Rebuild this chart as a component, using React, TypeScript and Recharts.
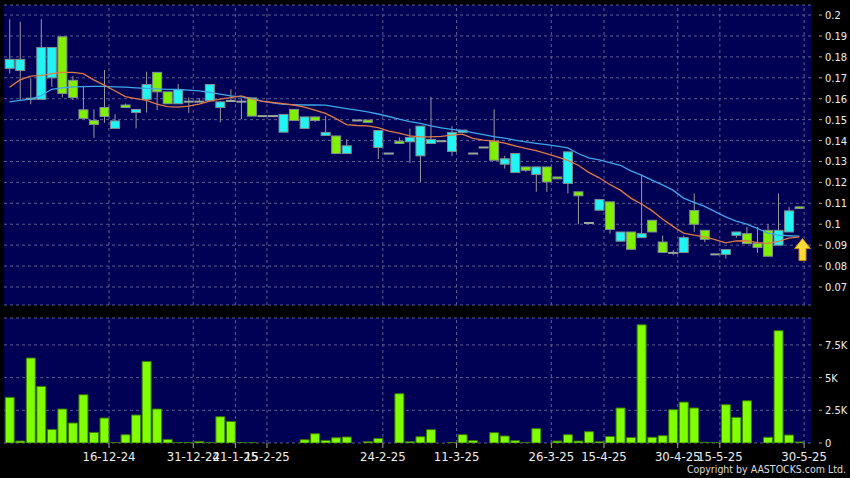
import {
  ComposedChart,
  Bar,
  Line,
  XAxis,
  YAxis,
  CartesianGrid,
  ReferenceLine,
  ReferenceDot,
} from "recharts";

// daily candles, oldest first (green = down day, cyan = up day)
const OPEN = [
  0.1745, 0.1735, 0.16, 0.1597, 0.17, 0.1896, 0.1688, 0.1547, 0.1496, 0.1558,
  0.1458, 0.157, 0.1534, 0.1597, 0.1726, 0.1633, 0.1576, 0.1586, 0.1586, 0.159,
  0.1558, 0.1589, 0.1586, 0.1604, 0.1517, 0.1517, 0.144, 0.1549, 0.1458, 0.1513,
  0.1424, 0.1422, 0.1338, 0.1496, 0.1498, 0.1367, 0.1338, 0.1397, 0.1394, 0.1327,
  0.1386, 0.1397, 0.1348, 0.1439, 0.1338, 0.1367, 0.1397, 0.1287, 0.1247, 0.1274,
  0.1238, 0.1274, 0.1226, 0.1195, 0.1155, 0.1006, 0.1067, 0.1107, 0.0919, 0.0963,
  0.0936, 0.1019, 0.0915, 0.0863, 0.0865, 0.1066, 0.0971, 0.0856, 0.0856, 0.0947,
  0.0955, 0.0908, 0.0971, 0.09, 0.0963, 0.1083,
];
const CLOSE = [
  0.1788, 0.1788, 0.16, 0.1845, 0.1845, 0.1625, 0.1606, 0.1506, 0.1477, 0.1515,
  0.1494, 0.1558, 0.1549, 0.1668, 0.1633, 0.1576, 0.1644, 0.1586, 0.1586, 0.1668,
  0.1585, 0.1589, 0.1586, 0.1517, 0.1517, 0.1517, 0.1525, 0.1496, 0.1513, 0.1496,
  0.1439, 0.1338, 0.1375, 0.1496, 0.1487, 0.1448, 0.1338, 0.1386, 0.1415, 0.1469,
  0.1405, 0.1397, 0.1439, 0.145, 0.1338, 0.1367, 0.1306, 0.1313, 0.1338, 0.1258,
  0.1274, 0.1202, 0.1217, 0.1346, 0.1136, 0.1006, 0.1118, 0.0975, 0.0963, 0.088,
  0.0955, 0.0963, 0.0865, 0.0863, 0.0936, 0.1, 0.0928, 0.0856, 0.0879, 0.0963,
  0.0908, 0.0889, 0.0847, 0.0971, 0.1064, 0.1075,
];
const HIGH = [
  0.198, 0.1968, 0.1697, 0.198, 0.1845, 0.1896, 0.1708, 0.1662, 0.1549, 0.1737,
  0.1526, 0.1577, 0.1549, 0.1729, 0.1726, 0.1633, 0.167, 0.1606, 0.1603, 0.1668,
  0.1589, 0.1644, 0.1601, 0.1604, 0.1517, 0.1517, 0.1525, 0.1549, 0.1513, 0.1513,
  0.1517, 0.1422, 0.1407, 0.1496, 0.1498, 0.1448, 0.1338, 0.1415, 0.1458, 0.1469,
  0.1609, 0.1397, 0.1469, 0.145, 0.1338, 0.1367, 0.1549, 0.1327, 0.1338, 0.1274,
  0.1274, 0.1274, 0.1226, 0.1346, 0.1155, 0.1006, 0.1118, 0.1107, 0.0963, 0.0963,
  0.1238, 0.1019, 0.0946, 0.0876, 0.0946, 0.1147, 0.0971, 0.0856, 0.0879, 0.0963,
  0.0987, 0.0987, 0.1, 0.1147, 0.1083, 0.1083,
];
const LOW = [
  0.172, 0.159, 0.1574, 0.1597, 0.1657, 0.1606, 0.1593, 0.1506, 0.1413, 0.1485,
  0.1458, 0.1558, 0.1458, 0.1534, 0.1545, 0.1576, 0.1576, 0.1532, 0.1586, 0.159,
  0.1487, 0.1589, 0.1502, 0.1517, 0.1517, 0.1517, 0.144, 0.1496, 0.1458, 0.1489,
  0.1424, 0.1338, 0.1338, 0.1496, 0.1487, 0.1311, 0.1338, 0.1386, 0.1293, 0.1202,
  0.1386, 0.1397, 0.1327, 0.1439, 0.1338, 0.1367, 0.1306, 0.1266, 0.1247, 0.125,
  0.1155, 0.1155, 0.1217, 0.1147, 0.1, 0.1, 0.1067, 0.0955, 0.0919, 0.088,
  0.0936, 0.0963, 0.0865, 0.0852, 0.0865, 0.0963, 0.0914, 0.0856, 0.0836, 0.0936,
  0.0908, 0.0863, 0.0847, 0.09, 0.0963, 0.1075,
];
const MA10 = [
  0.1655, 0.169, 0.1708, 0.171, 0.172, 0.1726, 0.1726, 0.172, 0.169, 0.1665,
  0.1638, 0.161, 0.16, 0.1592, 0.1574, 0.1562, 0.156, 0.1565, 0.1574, 0.1589,
  0.1598, 0.1605, 0.1614, 0.1598, 0.1587, 0.1582, 0.1577, 0.157, 0.156, 0.1545,
  0.153, 0.1505, 0.1476, 0.1472, 0.147, 0.1462, 0.1445, 0.1436, 0.1422, 0.1418,
  0.1418, 0.142, 0.1426, 0.1431, 0.141, 0.1402, 0.1397, 0.1388, 0.1375, 0.1363,
  0.1352, 0.1338, 0.1322, 0.1305, 0.1282, 0.1248, 0.1222, 0.119, 0.1163, 0.1125,
  0.1097, 0.1065, 0.1025, 0.099, 0.0958, 0.0948, 0.094, 0.0927, 0.0911, 0.092,
  0.0921, 0.0912, 0.0909, 0.0918, 0.0934, 0.094,
];
const MA20 = [
  0.1585, 0.1592, 0.1598, 0.1615, 0.1645, 0.1652, 0.1657, 0.1658, 0.1659, 0.1659,
  0.1657, 0.1655, 0.1652, 0.1649, 0.1647, 0.1645, 0.1644, 0.1641, 0.1638, 0.1631,
  0.1622, 0.1614, 0.1609, 0.1602, 0.1588, 0.158, 0.1573, 0.1572, 0.157, 0.157,
  0.1569, 0.1561, 0.1553, 0.1545, 0.1537, 0.1527, 0.1515, 0.1502, 0.149, 0.1482,
  0.147, 0.1461, 0.1453, 0.1447, 0.1438, 0.1428, 0.1419, 0.1412, 0.1402, 0.1394,
  0.1387, 0.1381, 0.1373, 0.1365, 0.1338, 0.1317, 0.1308, 0.1295, 0.1282, 0.1255,
  0.1235, 0.1211, 0.1188, 0.1163, 0.1125, 0.1105, 0.1085, 0.106, 0.1035, 0.1015,
  0.1001, 0.098, 0.0958, 0.0948, 0.0945, 0.0943,
];
const VOLUME = [
  3490, 150, 6500, 4330, 1040, 2600, 1530, 3690, 810, 1910,
  30, 635, 2140, 6240, 2600, 275, 20, 30, 120, 40,
  2010, 1650, 20, 20, 0, 0, 0, 0, 250, 710,
  200, 405, 460, 0, 100, 350, 0, 3770, 100, 480,
  1020, 0, 30, 635, 180, 0, 790, 535, 180, 20,
  1095, 0, 150, 635, 150, 865, 100, 500, 2675, 420,
  9040, 440, 560, 2550, 3130, 2675, 50, 30, 2930, 1960,
  3230, 0, 440, 8590, 610, 80,
];

const DATE_INDEX = [9, 17, 21, 24, 35, 42, 51, 56, 63, 67, 75];
const DATE_LABELS = [
  "16-12-24", "31-12-24", "21-1-25", "15-2-25", "24-2-25", "11-3-25",
  "26-3-25", "15-4-25", "30-4-25", "15-5-25", "30-5-25",
];
const PRICE_TICKS = [0.07, 0.08, 0.09, 0.1, 0.11, 0.12, 0.13, 0.14, 0.15, 0.16, 0.17, 0.18, 0.19, 0.2];
const VOLUME_TICKS = [0, 2500, 5000, 7500];
const VOLUME_LABELS = ["0", "2.5K", "5K", "7.5K"];

const rows = OPEN.map((open, i) => ({
  i,
  open,
  close: CLOSE[i],
  high: HIGH[i],
  low: LOW[i],
  ma10: MA10[i],
  ma20: MA20[i],
  vol: VOLUME[i],
}));

const X_DOMAIN: [number, number] = [-0.52, 76.2];
const GRID_X = DATE_INDEX.map((d) => d + 0.45);
const NAVY = "#000055";
const GRID = "#5c5c92";
const FONT = "'DejaVu Sans Condensed', 'DejaVu Sans', sans-serif";

function Candle(props: any) {
  const { x, y, width, height, payload } = props;
  const { open, close, high, low } = payload;
  const top = Math.min(y, y + height);
  const h = Math.abs(height);
  const span = high - low;
  const py = (v: number) => (span > 0 ? top + ((high - v) / span) * h : top);
  const cx = x + width / 2;
  if (open === close) {
    return (
      <g>
        {span > 0 && <line x1={cx} x2={cx} y1={py(high)} y2={py(low)} stroke="#9a9a9a" strokeWidth={1} />}
        <line x1={cx - 5} x2={cx + 5} y1={py(open)} y2={py(open)} stroke="#9aa79a" strokeWidth={2} />
      </g>
    );
  }
  const up = close > open;
  const bTop = py(Math.max(open, close));
  const bBot = py(Math.min(open, close));
  return (
    <g>
      <line x1={cx} x2={cx} y1={py(high)} y2={py(low)} stroke="#9a9a9a" strokeWidth={1} />
      <rect
        x={cx - 4.5}
        y={bTop}
        width={9}
        height={Math.max(bBot - bTop, 1.5)}
        fill={up ? "#22f4f4" : "#80f000"}
        stroke="#7f8f8f"
        strokeWidth={1}
      />
    </g>
  );
}

function Arrow(props: any) {
  const { cx, cy } = props;
  const pts = [
    [0, -11], [-8, -1], [-3.5, -1], [-3.5, 11], [3.5, 11], [3.5, -1], [8, -1],
  ]
    .map(([dx, dy]) => `${cx + dx},${cy + dy}`)
    .join(" ");
  return <polygon points={pts} fill="#ffd83a" stroke="#c88a00" strokeWidth={1} />;
}

function RightTick(props: any) {
  const { x, y, payload, labels, ticks } = props;
  const label = labels ? labels[ticks.indexOf(payload.value)] : String(payload.value);
  return (
    <g>
      <line x1={x + 7} x2={x + 10} y1={y} y2={y} stroke="#aaaaaa" />
      <text x={x + 13} y={y} dy="0.36em" fill="#eeeeee" fontSize={11} fontFamily={FONT}>
        {label}
      </text>
    </g>
  );
}

export default function App() {
  return (
    <div
      style={{
        position: "absolute",
        left: 0,
        top: 0,
        width: 850,
        height: 478,
        background: "#000",
        overflow: "hidden",
      }}
    >
      <div style={{ position: "absolute", left: 0, top: 0 }}>
        <ComposedChart width={850} height={310} data={rows} margin={{ top: 5, right: 0, left: 4, bottom: 5 }}>
          <CartesianGrid fill={NAVY} vertical={false} stroke={GRID} strokeDasharray="3 3" />
          <XAxis dataKey="i" type="number" domain={X_DOMAIN} hide allowDataOverflow />
          <YAxis
            orientation="right"
            width={38}
            domain={[0.0614, 0.2048]}
            ticks={PRICE_TICKS}
            allowDataOverflow
            axisLine={false}
            tickLine={false}
            tickSize={0}
            tickMargin={0}
            interval={0}
            tick={<RightTick />}
          />
          {GRID_X.map((gx) => (
            <ReferenceLine key={gx} x={gx} stroke={GRID} strokeDasharray="3 3" />
          ))}
          <Bar
            dataKey={(d: any) => [d.low, d.high]}
            barSize={9}
            shape={<Candle />}
            isAnimationActive={false}
          />
          <Line type="linear" dataKey="ma20" stroke="#3fa6e8" strokeWidth={1.3} dot={false} isAnimationActive={false} />
          <Line type="linear" dataKey="ma10" stroke="#e07a45" strokeWidth={1.3} dot={false} isAnimationActive={false} />
          <ReferenceDot x={75.3} y={0.0879} r={0} shape={<Arrow />} />
        </ComposedChart>
      </div>
      <div style={{ position: "absolute", left: 0, top: 310 }}>
        <ComposedChart width={850} height={168} data={rows} margin={{ top: 8, right: 0, left: 4, bottom: 0 }}>
          <CartesianGrid fill={NAVY} vertical={false} stroke={GRID} strokeDasharray="3 3" />
          <XAxis
            dataKey="i"
            type="number"
            domain={X_DOMAIN}
            allowDataOverflow
            ticks={GRID_X}
            interval={0}
            height={35}
            axisLine={false}
            tickSize={5}
            tickMargin={4}
            tickLine={{ stroke: "#aaaaaa" }}
            tick={{ fill: "#eeeeee", fontSize: 13, fontFamily: FONT }}
            tickFormatter={(v: number) => DATE_LABELS[GRID_X.indexOf(v)]}
          />
          <YAxis
            orientation="right"
            width={38}
            domain={[0, 9560]}
            ticks={VOLUME_TICKS}
            allowDataOverflow
            axisLine={false}
            tickLine={false}
            tickSize={0}
            tickMargin={0}
            interval={0}
            tick={<RightTick labels={VOLUME_LABELS} ticks={VOLUME_TICKS} />}
          />
          {GRID_X.map((gx) => (
            <ReferenceLine key={gx} x={gx} stroke={GRID} strokeDasharray="3 3" />
          ))}
          <Bar dataKey="vol" barSize={9} fill="#80ff00" stroke="#3c7800" strokeWidth={1} isAnimationActive={false} />
        </ComposedChart>
      </div>
      <div
        style={{
          position: "absolute",
          right: 4,
          top: 463,
          color: "#dddddd",
          fontSize: 10.5,
          fontFamily: FONT,
          whiteSpace: "nowrap",
        }}
      >
        Copyright by AASTOCKS.com Ltd.
      </div>
    </div>
  );
}
